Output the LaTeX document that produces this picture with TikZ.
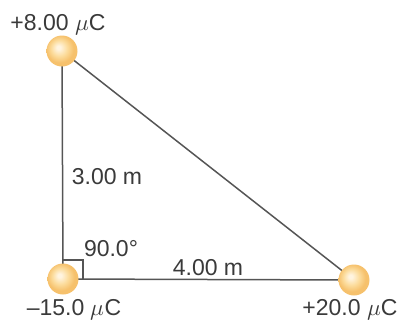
\documentclass[tikz,border=0pt]{standalone}
\usepackage{fontspec}
\setmainfont{Liberation Sans}
\usepackage{unicode-math}
\setmathfont{Latin Modern Math}
\definecolor{txt}{HTML}{3A3A3A}
\definecolor{ln}{HTML}{555555}
\definecolor{ballhi}{HTML}{FFF4E0}
\definecolor{ballmid}{HTML}{FCDC9C}
\definecolor{ballout}{HTML}{F6C16C}
\pgfdeclareradialshading{chargeball}{\pgfpoint{-6bp}{6bp}}{%
  color(0bp)=(ballhi);
  color(3bp)=(ballhi);
  color(13bp)=(ballmid);
  color(22bp)=(ballout);
  color(50bp)=(ballout)}
\tikzset{
  charge/.style={circle, minimum size=31pt, inner sep=0pt, shading=chargeball},
  side/.style={draw=ln, line width=1.5pt},
  lbl/.style={text=txt, font=\fontsize{23}{26}\selectfont, inner sep=0pt},
}
\begin{document}
\begin{tikzpicture}[x=1pt,y=-1pt]
\useasboundingbox (0,0) rectangle (400,322);
\coordinate (A) at (62,51);
\coordinate (B) at (63,279);
\coordinate (C) at (354,280);
\coordinate (r1) at (63,260);
\coordinate (r2) at (83,260);
\coordinate (r3) at (83,279);
\draw[side] (A) -- (B) -- (C) -- cycle;
\draw[draw=ln, line width=1.3pt] (r1) -- (r2) -- (r3);
\node[charge] (qa) at (A) {};
\node[charge] (qb) at (B) {};
\node[charge] (qc) at (C) {};
\node[lbl] (la) at (58,25) {+8.00 $\mu$C};
\node[lbl] (lb) at (74,310) {\char"2013 15.0 $\mu$C};
\node[lbl] (lc) at (350,310) {+20.0 $\mu$C};
\node[lbl] (ab) at (107,177) {3.00 m};
\node[lbl] (ang) at (111,249) {90.0°};
\node[lbl] (bc) at (208,268) {4.00 m};
\end{tikzpicture}
\end{document}
